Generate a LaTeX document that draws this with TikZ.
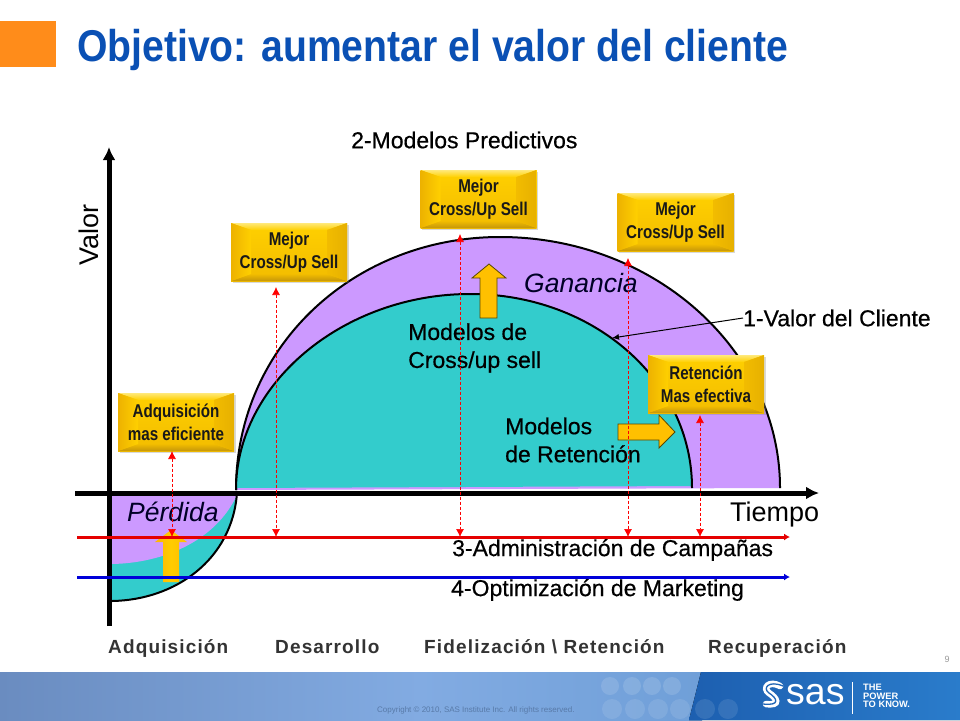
\documentclass[tikz,border=0pt]{standalone}
\usepackage{fontspec}
\setmainfont{Liberation Sans}
\newfontfamily\narrowf[FakeStretch=0.82]{Liberation Sans}
\newfontfamily\titlef[FakeStretch=0.88]{Liberation Sans}
\newfontfamily\spacedf[LetterSpace=6]{Liberation Sans}
\newfontfamily\heavyf[FakeBold=0.5]{Liberation Sans}
\usetikzlibrary{arrows.meta,shadows,calc}
\definecolor{gold}{HTML}{FFCC00}
\definecolor{goldtop}{HTML}{FFE97A}
\definecolor{goldleft}{HTML}{EDB200}
\definecolor{goldbot}{HTML}{C4960A}
\definecolor{goldright}{HTML}{E6B000}
\definecolor{goldmid}{HTML}{FFD000}
\definecolor{goldlow}{HTML}{F2BC00}
\definecolor{blockgold}{HTML}{FFC000}
\definecolor{purplearea}{HTML}{CC99FF}
\definecolor{tealarea}{HTML}{33CCCC}
\definecolor{titleblue}{HTML}{0A50B4}
\definecolor{orangebox}{HTML}{FF8C1A}
\definecolor{bandA}{HTML}{6A8CC0}
\definecolor{bandB}{HTML}{82ABE2}
\definecolor{bandC}{HTML}{6F9FD8}
\definecolor{bandD}{HTML}{1D5FB0}
\definecolor{bandE}{HTML}{2A7CCB}
\definecolor{copygrey}{HTML}{587AA8}
\tikzset{
  goldbox/.style={rectangle,minimum width=116,minimum height=58,inner sep=0,align=center,
    font=\narrowf\bfseries\fontsize{18.5}{23}\selectfont,text=black!90,
    fill=gold,drop shadow={shadow xshift=1.5pt,shadow yshift=-1.5pt,opacity=.3},
    path picture={
      \coordinate (nw) at (path picture bounding box.north west);
      \coordinate (ne) at (path picture bounding box.north east);
      \coordinate (sw) at (path picture bounding box.south west);
      \coordinate (se) at (path picture bounding box.south east);
      \shade[top color=goldmid,bottom color=goldlow] ($(nw)+(0,0)$) rectangle (se);
      \shade[top color=goldtop,bottom color=goldmid] (nw)--(ne)--($(ne)+(-20,7)$)--($(nw)+(20,7)$)--cycle;
      \shade[top color=goldlow,bottom color=goldbot] ($(sw)+(20,-7)$)--($(se)+(-20,-7)$)--(se)--(sw)--cycle;
      \shade[left color=goldleft,right color=goldmid] (nw)--(sw)--($(sw)+(20,-7)$)--($(nw)+(20,7)$)--cycle;
      \shade[left color=goldlow,right color=goldright] ($(ne)+(-20,7)$)--($(se)+(-20,-7)$)--(se)--(ne)--cycle;
    }},
  dashlink/.style={red,densely dashed,line width=.7pt,{Latex[length=8,width=8]}-{Latex[length=8,width=8]}},
  axisline/.style={line width=5pt,-{Latex[length=13,width=13]}},
  levelline/.style={line width=3pt,-{Latex[length=6,width=7]}},
  biglabel/.style={inner sep=0,anchor=west,font=\heavyf\fontsize{23}{28}\selectfont,text=black,align=left},
  arealabel/.style={inner sep=0,font=\itshape\fontsize{26.5}{28}\selectfont,text=black!85!blue},
  phaselabel/.style={inner sep=0,anchor=base west,font=\spacedf\bfseries\fontsize{19}{22}\selectfont,text=black!80},
  curve/.style={draw=black,line width=2pt},
  goldarrow/.style={fill=blockgold,draw=black!65!gold,line width=.8pt},
}
\begin{document}
\begin{tikzpicture}[x=1pt,y=-1pt]
\useasboundingbox (0,0) rectangle (960,720);
\fill[white] (0,0) rectangle (960,720);
% header
\fill[orangebox] (0,21) rectangle (56,67);
\node[inner sep=0,anchor=base west,text=titleblue,font=\titlef\bfseries\fontsize{44.5}{50}\selectfont] (title) at (77,61) {Objetivo: aumentar el valor del cliente};
% footer
\fill[left color=bandA,right color=bandB] (0,672) rectangle (420,720);
\fill[left color=bandB,right color=bandC] (419.5,672) rectangle (702,720);
\fill[left color=bandD,right color=bandE] (701,672)--(960,672)--(960,720)--(689,720)--cycle;
\foreach \cx in {610,632,652,672} {\fill[white,opacity=.13] (\cx,686) circle (9);}
\foreach \cx in {612,635,658,680,705,728} {\fill[white,opacity=.1] (\cx,709) circle (10);}
\node[inner sep=0,anchor=west,text=copygrey,font=\fontsize{8}{9}\selectfont] (copy) at (377,710) {Copyright \textcopyright\ 2010, SAS Institute Inc. All rights reserved.};
\node[inner sep=0,text=black!40,font=\fontsize{9}{10}\selectfont] (pagenum) at (947,659) {9};
\draw[white,line width=6.5pt,line cap=round] (780,686) .. controls (769,680) and (762,688) .. (769,693) .. controls (777,698) and (781,706) .. (766,704);
\draw[bandD!80!bandE,line width=1.3pt] (783,686) .. controls (769,680) and (762,688) .. (769,693) .. controls (777,698) and (781,706) .. (763,704);
\node[inner sep=0,anchor=base west,text=white,font=\fontsize{37.5}{38}\selectfont] (sas) at (786,704) {sas};
\draw[white,line width=.6pt] (852,682)--(852,714);
\node[inner sep=0,anchor=west,align=left,text=white,font=\bfseries\fontsize{9.3}{8.6}\selectfont] (slogan) at (863,696) {THE\\POWER\\TO KNOW.};
% loss area
\fill[tealarea] (112,493)--(237,493) .. controls (232,560) and (175,600) .. (112,601)--cycle;
\fill[purplearea] (112,493)--(237,493)--(236,497) .. controls (215,540) and (165,563) .. (112,564)--cycle;
\draw[curve] (237,493) .. controls (232,560) and (175,600) .. (112,601);
% value areas
\fill[purplearea] (236,490) .. controls (236,345) and (355,237) .. (500,237) .. controls (654,237) and (780,350) .. (780,488)--cycle;
\draw[curve] (236,490) .. controls (236,345) and (355,237) .. (500,237) .. controls (654,237) and (780,350) .. (780,488);
\fill[tealarea] (236,488) .. controls (236,383) and (344,294) .. (470,294) .. controls (594,294) and (692,381) .. (692,486)--cycle;
\draw[curve] (236,490) .. controls (236,383) and (344,294) .. (470,294) .. controls (594,294) and (692,381) .. (692,488);
% axes
\coordinate (xstart) at (75,493);
\coordinate (xend) at (819,493);
\coordinate (ystart) at (109,626);
\coordinate (yend) at (109,147);
\draw[axisline] (ystart) -- (yend);
\draw[axisline] (xstart) -- (xend);
% block arrows
\draw[goldarrow] (480,318)--(497,318)--(497,278)--(506,278)--(489,264)--(472,278)--(480,278)--cycle;
\draw[goldarrow] (618,424)--(659,424)--(659,415)--(675,432)--(659,448)--(659,440)--(618,440)--cycle;
\shade[left color=gold!70!orange,right color=gold!80!orange,middle color=gold] (163,582)--(179,582)--(179,542)--(187,542)--(171,530)--(155,542)--(163,542)--cycle;
% labels
\node[biglabel] (cross) at (408,348) {Modelos de\\Cross/up sell};
\node[biglabel] (ret) at (505,440) {Modelos\\de Retención};
\node[arealabel,anchor=west] (gan) at (524,283) {Ganancia};
\node[arealabel,anchor=west] (per) at (127,512) {Pérdida};
\node[biglabel] (pred) at (351,140) {2-Modelos Predictivos};
\node[biglabel] (cliente) at (743,318) {1-Valor del Cliente};
\node[inner sep=0,rotate=90,font=\fontsize{27}{28}\selectfont] (valor) at (89,235) {Valor};
\node[inner sep=0,anchor=west,font=\fontsize{27}{28}\selectfont] (tiempo) at (730,515) {Tiempo};
\node[biglabel] (camp) at (452,550) {3-Administración de Campañas};
\node[biglabel] (mkt) at (451,590) {4-Optimización de Marketing};
\node[phaselabel] (f1) at (108,653) {Adquisición};
\node[phaselabel] (f2) at (275,653) {Desarrollo};
\node[phaselabel] (f3) at (424,653) {Fidelización \textbackslash\ Retención};
\node[phaselabel] (f4) at (708,653) {Recuperación};
% gold boxes
\node[goldbox] (adq) at (176,422) {Adquisición\\mas eficiente};
\node[goldbox] (m1) at (289,252) {Mejor\\Cross/Up Sell};
\node[goldbox] (m2) at (478.5,199) {Mejor\\Cross/Up Sell};
\node[goldbox] (m3) at (675.5,222) {Mejor\\Cross/Up Sell};
\node[goldbox] (rete) at (706,384) {Retención\\Mas efectiva};
% connector 1-Valor
\coordinate (curvept) at (612,338);
\draw[black,line width=1pt,-{Latex[length=7,width=6]}] (cliente.west) -- (curvept);
% level lines
\coordinate (r0) at (77,537); \coordinate (r1) at (790,537);
\coordinate (b0) at (77,577); \coordinate (b1) at (790,577);
\draw[levelline,red!90!black] (r0) -- (r1);
\draw[levelline,blue!85!black] (b0) -- (b1);
% dashed connectors
\coordinate (d1t) at (172,451); \coordinate (d1b) at (172,537);
\coordinate (d2t) at (276,287); \coordinate (d2b) at (276,537);
\coordinate (d3t) at (460,234); \coordinate (d3b) at (460,537);
\coordinate (d4t) at (628,258); \coordinate (d4b) at (628,537);
\coordinate (d5t) at (700,415); \coordinate (d5b) at (700,537);
\draw[dashlink] (d1t) -- (d1b);
\draw[dashlink] (d2t) -- (d2b);
\draw[dashlink] (d3t) -- (d3b);
\draw[dashlink] (d4t) -- (d4b);
\draw[dashlink] (d5t) -- (d5b);
\end{tikzpicture}
\end{document}
